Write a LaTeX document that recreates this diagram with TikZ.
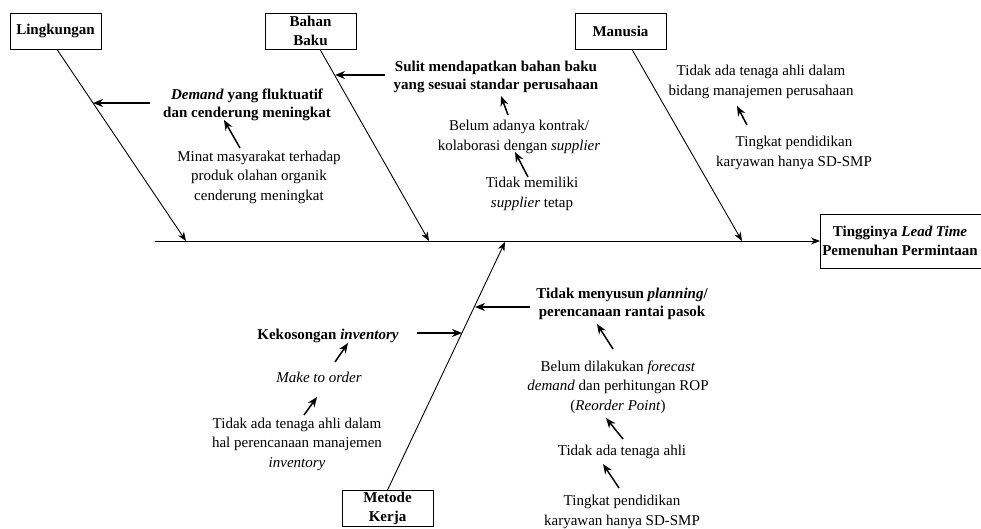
\documentclass[tikz,border=0pt]{standalone}
\usepackage{fontspec}
\setmainfont{Liberation Serif}
\usetikzlibrary{arrows.meta}
\begin{document}
\begin{tikzpicture}[x=1pt,y=-1pt,
 catbox/.style={draw, line width=0.9pt, font=\bfseries\fontsize{15}{18.5}\selectfont, align=center, minimum width=91pt, minimum height=36pt, inner sep=1pt},
 txt/.style={font=\fontsize{15}{19.5}\selectfont, align=center, inner sep=0pt},
 btxt/.style={font=\bfseries\fontsize{15}{18.5}\selectfont, align=center, inner sep=0pt},
 bone/.style={line width=0.9pt, -{Stealth[length=9pt,width=7pt]}},
 sub/.style={line width=1.5pt, -{Stealth[length=10pt,width=8pt]}},
]
\clip (0,0) rectangle (981,528);
% category boxes
\node[catbox] (ling) at (55.5,31) {Lingkungan};
\node[catbox] (bahan) at (310.5,31) {Bahan\\Baku};
\node[catbox] (manusia) at (620.5,31) {Manusia};
\node[catbox] (metode) at (387.5,508.5) {Metode\\Kerja};
\draw[line width=0.9pt] (820,214) rectangle (995,268);
\node[catbox, draw=none, minimum width=160pt, minimum height=54pt] (effect) at (900,241) {Tingginya \textit{Lead Time}\\Pemenuhan Permintaan};
\coordinate (effin) at (820,241);
% spine
\coordinate (s0) at (155,241);
\draw[bone] (s0) -- (effin);
% bones
\coordinate (lingend) at (186,241);
\coordinate (bahanend) at (429,241);
\coordinate (manend) at (742,241);
\coordinate (metend) at (505,242);
\draw[bone] ([xshift=1.5pt]ling.south) -- (lingend);
\draw[bone] ([xshift=9.5pt]bahan.south) -- (bahanend);
\draw[bone] ([xshift=11.5pt]manusia.south) -- (manend);
\draw[bone] (metode.north) -- (metend);
% texts
\node[btxt] (demand) at (247,105) {\textit{Demand} yang fluktuatif\\dan cenderung meningkat};
\node[txt] (minat) at (259,177) {Minat masyarakat terhadap\\produk olahan organik\\cenderung meningkat};
\node[btxt] (sulit) at (496,77) {Sulit mendapatkan bahan baku\\yang sesuai standar perusahaan};
\node[txt] (kontrak) at (519,137) {Belum adanya kontrak/\\kolaborasi dengan \textit{supplier}};
\node[txt] (tetap) at (532,194) {Tidak memiliki\\\textit{supplier} tetap};
\node[txt] (ahli1) at (761,82) {Tidak ada tenaga ahli dalam\\bidang manajemen perusahaan};
\node[txt] (didik1) at (794,153) {Tingkat pendidikan\\karyawan hanya SD-SMP};
\node[btxt] (menyusun) at (622,304) {Tidak menyusun \textit{planning}/\\perencanaan rantai pasok};
\node[btxt] (kosong) at (328,336) {Kekosongan \textit{inventory}};
\node[txt] (mto) at (319,377) {\textit{Make to order}};
\node[txt] (ahli2) at (297,444) {Tidak ada tenaga ahli dalam\\hal perencanaan manajemen\\\textit{inventory}};
\node[txt] (forecast) at (618,387) {Belum dilakukan \textit{forecast}\\\textit{demand} dan perhitungan ROP\\(\textit{Reorder Point})};
\node[txt] (ahli3) at (622,452) {Tidak ada tenaga ahli};
\node[txt] (didik2) at (622,512) {Tingkat pendidikan\\karyawan hanya SD-SMP};
% cause arrows onto bones
\coordinate (dA) at (150,103); \coordinate (dB) at (93,103);
\draw[sub] (dA) -- (dB);
\coordinate (sA) at (385,75); \coordinate (sB) at (335,75);
\draw[sub] (sA) -- (sB);
\coordinate (mA) at (530,307); \coordinate (mB) at (475,307);
\draw[sub] (mA) -- (mB);
\coordinate (kA) at (417,333); \coordinate (kB) at (462,333);
\draw[sub] (kA) -- (kB);
% sub-cause arrows
\coordinate (a1s) at (240,148); \coordinate (a1e) at (224,120);
\draw[sub] (a1s) -- (a1e);
\coordinate (a2s) at (508,115); \coordinate (a2e) at (501,96);
\draw[sub] (a2s) -- (a2e);
\coordinate (a3s) at (528,177); \coordinate (a3e) at (515,152);
\draw[sub] (a3s) -- (a3e);
\coordinate (a4s) at (747,125); \coordinate (a4e) at (737,106);
\draw[sub] (a4s) -- (a4e);
\coordinate (a5s) at (335,362); \coordinate (a5e) at (348,343);
\draw[sub] (a5s) -- (a5e);
\coordinate (a6s) at (304,415); \coordinate (a6e) at (317,397);
\draw[sub] (a6s) -- (a6e);
\coordinate (a7s) at (613,349); \coordinate (a7e) at (597,324);
\draw[sub] (a7s) -- (a7e);
\coordinate (a8s) at (623,439); \coordinate (a8e) at (606,418);
\draw[sub] (a8s) -- (a8e);
\coordinate (a9s) at (619,488); \coordinate (a9e) at (603,464);
\draw[sub] (a9s) -- (a9e);
\end{tikzpicture}
\end{document}
